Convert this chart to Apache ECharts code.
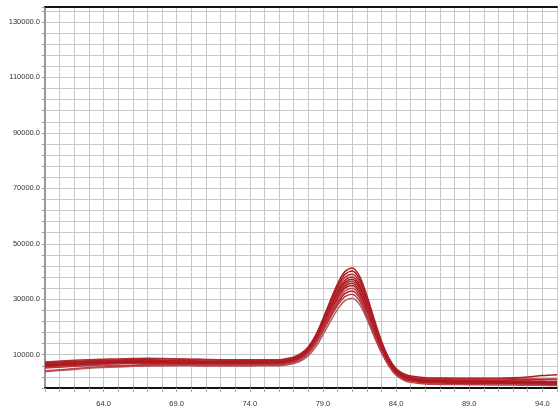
<!DOCTYPE html>
<html><head><meta charset="utf-8">
<script src="https://cdn.jsdelivr.net/npm/echarts@6/dist/echarts.min.js"></script>
<style>html,body{margin:0;padding:0;background:#fff}#c{width:560px;height:412px}</style>
</head><body><div id="c"></div>
<script>
// Temperatures (°C)
const temps = [60,61,62,63,64,65,66,67,68,69,70,71,72,73,74,75,76,76.5,77,77.5,78,78.5,79,79.5,80,80.5,81,81.5,82,82.5,83,83.5,84,84.5,85,86,87,88,89,90,91,92,93,94,95];
// Fluorescence curves
const s1 = [6800,7100,7400,7600,7800,7900,8000,8000,7900,7800,7800,7700,7700,7700,7700,7750,7800, 8200,8870,10230,12770,16960,22930,29480,35590,39970,41300,38360,31370,22910,14980,8870,4880,2820,1830, 1000,900,800,700,650,600,550,500,450,400];
const s2 = [6200,6500,6800,7100,7300,7500,7600,7600,7500,7400,7400,7300,7300,7300,7300,7350,7400, 7800,8450,9790,12290,16410,22280,28690,34660,38930,40200,37280,30360,22000,14170,8150,4220,2190,1220, 450,350,250,200,100,50,0,-50,-100,-150];
const s3 = [7400,7700,8000,8200,8400,8500,8600,8700,8600,8500,8400,8300,8200,8200,8150,8150,8200, 8580,9190,10450,12810,16700,22240,28260,33850,37830,39000,36210,29640,21730,14330,8630,4920,3000,2080, 1350,1300,1250,1250,1300,1350,1300,1250,1200,1150];
const s4 = [5800,6100,6400,6700,6900,7000,7100,7200,7100,7000,7000,6900,6900,6900,6950,7000,7000, 7380,8000,9280,11660,15590,21180,27240,32850,36840,38000,35160,28490,20470,12980,7210,3450,1520,590, -100,-200,-300,-350,-400,-450,-500,-550,-600,-650];
const s5 = [7000,7200,7400,7500,7700,7800,7700,7500,7700,7800,7700,7600,7500,7500,7550,7600,7600, 7960,8560,9780,12050,15810,21140,26930,32290,36090,37200,34490,28110,20460,13300,7790,4200,2350,1460, 800,700,650,600,500,450,400,350,300,250];
const s6 = [5200,5500,5800,6100,6300,5900,6200,6500,6600,6600,6600,6500,6500,6550,6600,6600,6600, 6960,7560,8780,11060,14830,20180,26030,31470,35350,36500,33820,27490,19850,12700,7200,3610,1750,860, 200,100,50,0,-100,-200,-300,-400,-500,-600];
const s7 = [7200,7400,7600,7800,8000,8100,8200,8400,8500,8400,8300,8200,8100,8000,8000,8000,8000, 8340,8900,10040,12170,15690,20700,26140,31170,34750,35800,33260,27300,20130,13420,8260,4890,3160,2330, 1700,1600,1550,1500,1500,1550,1700,2000,2500,2800];
const s8 = [6000,6300,6600,6900,7100,7300,7400,7400,7300,7200,7200,7100,7100,7100,7150,7200,7200, 7540,8100,9260,11410,14970,20020,25460,30460,34000,35000,32390,26280,18990,12180,6940,3520,1770,930, 300,200,100,50,0,-50,-100,-150,-200,-250];
const s9 = [4200,4600,5000,5400,5700,5900,6000,6100,6100,6200,6200,6100,6100,6100,6150,6200,6200, 6540,7100,8260,10400,13960,19000,24440,29450,32990,34000,31400,25320,18040,11250,6020,2620,870,30, -600,-700,-750,-800,-850,-900,-950,-1000,-1050,-1100];
const s10 = [6500,6700,6900,7100,7200,7300,7300,7200,7100,7000,7000,6900,6900,6950,7000,7000,7000, 7320,7840,8910,10920,14220,18920,24000,28700,32030,33000,30600,24980,18230,11920,7070,3900,2280,1490, 900,850,800,800,850,900,950,1000,1100,1200];
const s11 = [5600,5900,6200,6400,6600,6700,6800,6900,6900,6800,6800,6700,6700,6700,6750,6800,6800, 7110,7620,8670,10620,13850,18430,23320,27790,30930,31800,29390,23780,17120,10920,6140,3030,1450,680, 100,50,0,-50,-100,-200,-250,-300,-400,-500];
const s12 = [3900,4300,4700,5100,5400,5600,5800,5900,6000,6000,6000,5900,5900,5900,5950,6000,6000, 6300,6790,7790,9660,12750,17140,21910,26330,29480,30400,28180,22950,16670,10790,6260,3310,1790,1060, 500,450,400,350,300,250,200,150,100,50];
// Axis tick labels
const xLabels = [64,69,74,79,84,89,94];
const yLabels = [10000,30000,50000,70000,90000,110000,130000];

const curves = [s12,s11,s10,s9,s8,s7,s6,s5,s4,s3,s2,s1];
const colors = ['#a8656b','#b53a40','#b01e24','#c0434a','#a8191f','#b01e24','#b8353b','#a8191f','#b01e24','#b32a30','#a8191f','#b01e24'];
const font = "'Liberation Sans',Arial,sans-serif";

const chart = echarts.init(document.getElementById('c'), null, {renderer:'canvas'});
chart.setOption({
  animation:false,
  grid:{left:45,right:-1,top:7,bottom:24},
  xAxis:[{
    type:'value',min:60,max:95,interval:1,
    axisLine:{onZero:false,lineStyle:{color:'#111',width:2}},
    axisTick:{show:true,length:4,lineStyle:{color:'#aaa'}},
    splitLine:{show:true,lineStyle:{color:'#c8c8c8',width:1}},
    axisLabel:{formatter:v=>xLabels.includes(v)?v.toFixed(1):'',margin:12,fontSize:7.5,color:'#333',fontFamily:font}
  },{
    type:'value',position:'top',min:60,max:95,
    axisLine:{show:true,onZero:false,lineStyle:{color:'#111',width:2}},
    axisTick:{show:false},axisLabel:{show:false},splitLine:{show:false}
  }],
  yAxis:{
    type:'value',min:-2000,max:135400,interval:4000,
    axisLine:{show:true,lineStyle:{color:'#999',width:2}},
    axisTick:{show:true,length:3,lineStyle:{color:'#999'}},
    axisLabel:{formatter:v=>yLabels.includes(v)?v.toFixed(1):'',margin:5,fontSize:7.5,color:'#333',fontFamily:font},
    splitLine:{show:true,lineStyle:{color:'#c8c8c8',width:1}}
  },
  series:curves.map((c,i)=>({
    type:'line',smooth:0.3,showSymbol:false,
    data:temps.map((t,j)=>[t,c[j]]),
    lineStyle:{color:colors[i],width:1.5},
    itemStyle:{color:colors[i]}
  }))
});
</script></body></html>
